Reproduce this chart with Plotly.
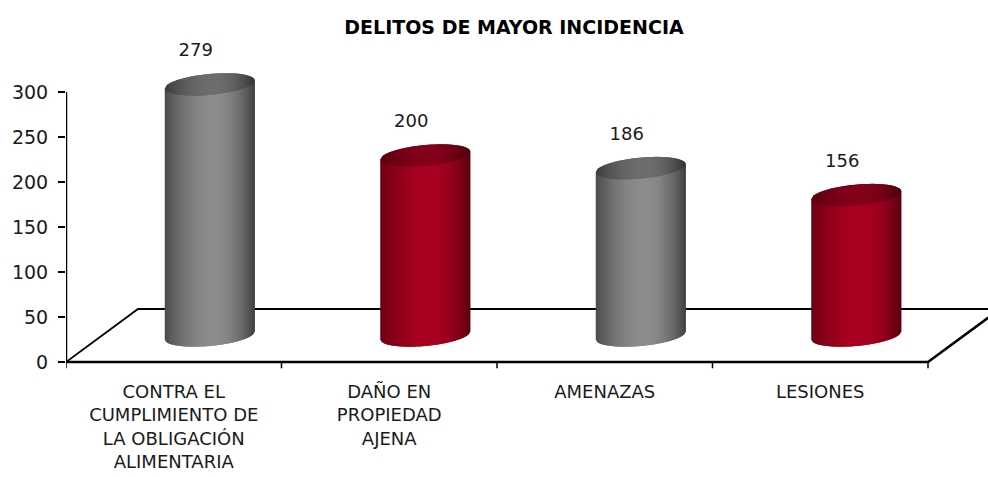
import numpy as np
import plotly.graph_objects as go

# ---- data ----
categories = ["CONTRA EL<br>CUMPLIMIENTO DE<br>LA OBLIGACIÓN<br>ALIMENTARIA",
              "DAÑO EN<br>PROPIEDAD<br>AJENA",
              "AMENAZAS",
              "LESIONES"]
values = [279, 200, 186, 156]
families = ["gray", "red", "gray", "red"]
y_ticks = [0, 50, 100, 150, 200, 250, 300]
title_text = "DELITOS DE MAYOR INCIDENCIA"

# ---- geometry (pseudo-3D, in axis units) ----
PX_X = 215.5          # px per category unit
PX_Y = 0.9            # px per value unit
depth_x = 72 / PX_X   # floor depth offset in x
depth_y = 53 / PX_Y   # floor depth offset in y
base = depth_y / 2
cx_off = depth_x / 2
rx = 45 / PX_X
ry = 10.5 / PX_Y
tilt = 4 / PX_Y
N = 45

palette = {
    "gray": {"left": (72, 72, 72), "peak": (140, 140, 140), "right": (60, 60, 60)},
    "red": {"left": (105, 0, 18), "peak": (168, 0, 32), "right": (88, 0, 14)},
}
UP = 0.1


def shade(fam, u, k=1.0):
    p = palette[fam]
    if u < UP:
        t = (UP - u) / (1 + UP)
        edge = p["left"]
    else:
        t = (u - UP) / (1 - UP)
        edge = p["right"]
    w = np.cos(min(t, 1) * np.pi / 2) ** 0.8
    c = [k * (e + (pk - e) * w) for e, pk in zip(edge, p["peak"])]
    return "rgb(%d,%d,%d)" % tuple(int(round(v)) for v in c)


fig = go.Figure()

# floor
x0 = -0.5
x1 = len(categories) - 0.5
fig.add_trace(go.Scatter(x=[x0, x0 + depth_x, x1 + depth_x + 1], y=[0, depth_y, depth_y],
                         mode="lines", line=dict(color="black", width=1.8), hoverinfo="skip"))
fig.add_trace(go.Scatter(x=[x0, x1, x1 + depth_x], y=[0, 0, depth_y],
                         mode="lines", line=dict(color="black", width=2.5), hoverinfo="skip"))
# x boundary ticks
bx, by = [], []
for b in np.arange(x0, x1 + 0.01, 1.0):
    bx += [b, b, None]
    by += [0, -7, None]
fig.add_trace(go.Scatter(x=bx, y=by, mode="lines", line=dict(color="black", width=1.5),
                         hoverinfo="skip"))
# y axis line
fig.add_trace(go.Scatter(x=[x0, x0], y=[0, max(y_ticks)], mode="lines",
                         line=dict(color="black", width=2.5), hoverinfo="skip"))

edges = np.linspace(-1, 1, N + 1)


def ell(u, c, sign):
    return c + sign * ry * np.sqrt(max(0.0, 1 - u * u)) + tilt * u


for fam in ["gray", "red"]:
    idx = [i for i, f in enumerate(families) if f == fam]
    for part in ["body", "cap"]:
        for s in range(N):
            ua = edges[s]
            ub = min(1.0, edges[s + 1] + (edges[1] - edges[0]))  # overlap next strip
            um = (edges[s] + edges[s + 1]) / 2
            us = np.linspace(ua, ub, 5)
            xs, ys = [], []
            for i in idx:
                xc = i + cx_off
                top = base + values[i]
                px = [xc + u * rx for u in us] + [xc + u * rx for u in us[::-1]]
                if part == "body":
                    py = [top + tilt * u for u in us] + [ell(u, base, -1) for u in us[::-1]]
                else:
                    py = [ell(u, top, 1) for u in us] + [ell(u, top, -1) for u in us[::-1]]
                xs += px + [px[0], None]
                ys += py + [py[0], None]
            col = shade(fam, um, 1.0 if part == "body" else 0.78)
            fig.add_trace(go.Scatter(x=xs, y=ys, mode="lines", fill="toself",
                                     fillcolor=col, line=dict(color=col, width=0),
                                     hoverinfo="skip"))

# value labels
fig.add_trace(go.Scatter(
    x=[i + cx_off - 14 / PX_X for i in range(len(values))],
    y=[base + v + ry + 24.5 for v in values],
    mode="text", text=[str(v) for v in values],
    textfont=dict(size=18, color="#1a1a1a", family="DejaVu Sans"),
    cliponaxis=False, hoverinfo="skip"))

xmax = x0 + 922 / PX_X
fig.update_layout(
    width=988, height=477,
    margin=dict(l=66, r=0, t=47, b=106),
    paper_bgcolor="white", plot_bgcolor="white",
    showlegend=False, hovermode=False,
    font=dict(family="DejaVu Sans", color="#1a1a1a", size=18),
    title=dict(text="<b>%s</b>" % title_text, x=514 / 988, xanchor="center",
               y=1 - 27 / 477, yanchor="middle", yref="container",
               font=dict(size=19, color="black", family="DejaVu Sans")),
    xaxis=dict(range=[x0, xmax], tickvals=list(range(len(categories))), ticktext=categories,
               showgrid=False, zeroline=False, showline=False, ticks="",
               tickfont=dict(size=18), ticklabelstandoff=8, fixedrange=True),
    yaxis=dict(range=[-10, 350], tickvals=y_ticks, showgrid=False, zeroline=False,
               showline=False, ticks="outside", ticklen=7, tickwidth=1.5, tickcolor="black",
               tickfont=dict(size=19), ticklabelstandoff=6, fixedrange=True),
)

fig.write_html("out.html", config={"displayModeBar": False},
               post_script="document.body.style.margin='0';document.body.style.overflow='hidden';")
